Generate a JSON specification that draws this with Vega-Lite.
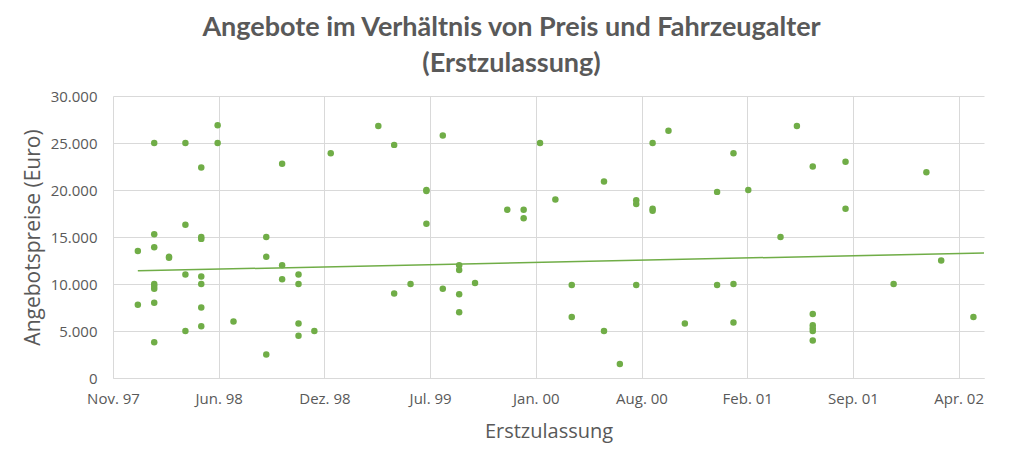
{
  "$schema": "https://vega.github.io/schema/vega-lite/v6.json",
  "autosize": {"type": "none"},
  "width": 871,
  "height": 282,
  "padding": {"left": 113, "top": 96, "right": 40, "bottom": 80},
  "background": "#FFFFFF",
  "title": {
    "text": ["Angebote im Verhältnis von Preis und Fahrzeugalter", "(Erstzulassung)"],
    "font": "Lato",
    "fontSize": 27,
    "fontWeight": "bold",
    "color": "#595959",
    "lineHeight": 36,
    "anchor": "middle",
    "dx": -37,
    "offset": 11
  },
  "datasets": {
    "angebote": [
      {"Erstzulassung": "1998-01-01", "Preis": 13500},
      {"Erstzulassung": "1998-01-01", "Preis": 7800},
      {"Erstzulassung": "1998-02-01", "Preis": 25000},
      {"Erstzulassung": "1998-02-01", "Preis": 15300},
      {"Erstzulassung": "1998-02-01", "Preis": 13900},
      {"Erstzulassung": "1998-02-01", "Preis": 10000},
      {"Erstzulassung": "1998-02-01", "Preis": 9800},
      {"Erstzulassung": "1998-02-01", "Preis": 9500},
      {"Erstzulassung": "1998-02-01", "Preis": 8000},
      {"Erstzulassung": "1998-02-01", "Preis": 3800},
      {"Erstzulassung": "1998-03-01", "Preis": 12900},
      {"Erstzulassung": "1998-03-01", "Preis": 12800},
      {"Erstzulassung": "1998-04-01", "Preis": 25000},
      {"Erstzulassung": "1998-04-01", "Preis": 16300},
      {"Erstzulassung": "1998-04-01", "Preis": 11000},
      {"Erstzulassung": "1998-04-01", "Preis": 5000},
      {"Erstzulassung": "1998-05-01", "Preis": 22400},
      {"Erstzulassung": "1998-05-01", "Preis": 15000},
      {"Erstzulassung": "1998-05-01", "Preis": 14800},
      {"Erstzulassung": "1998-05-01", "Preis": 10800},
      {"Erstzulassung": "1998-05-01", "Preis": 10000},
      {"Erstzulassung": "1998-05-01", "Preis": 7500},
      {"Erstzulassung": "1998-05-01", "Preis": 5500},
      {"Erstzulassung": "1998-06-01", "Preis": 26900},
      {"Erstzulassung": "1998-06-01", "Preis": 25000},
      {"Erstzulassung": "1998-07-01", "Preis": 6000},
      {"Erstzulassung": "1998-09-01", "Preis": 15000},
      {"Erstzulassung": "1998-09-01", "Preis": 12900},
      {"Erstzulassung": "1998-09-01", "Preis": 2500},
      {"Erstzulassung": "1998-10-01", "Preis": 22800},
      {"Erstzulassung": "1998-10-01", "Preis": 12000},
      {"Erstzulassung": "1998-10-01", "Preis": 10500},
      {"Erstzulassung": "1998-11-01", "Preis": 11000},
      {"Erstzulassung": "1998-11-01", "Preis": 10000},
      {"Erstzulassung": "1998-11-01", "Preis": 5800},
      {"Erstzulassung": "1998-11-01", "Preis": 4500},
      {"Erstzulassung": "1998-12-01", "Preis": 5000},
      {"Erstzulassung": "1999-01-01", "Preis": 23900},
      {"Erstzulassung": "1999-04-01", "Preis": 26800},
      {"Erstzulassung": "1999-05-01", "Preis": 24800},
      {"Erstzulassung": "1999-05-01", "Preis": 9000},
      {"Erstzulassung": "1999-06-01", "Preis": 10000},
      {"Erstzulassung": "1999-07-01", "Preis": 20000},
      {"Erstzulassung": "1999-07-01", "Preis": 19900},
      {"Erstzulassung": "1999-07-01", "Preis": 16400},
      {"Erstzulassung": "1999-08-01", "Preis": 25800},
      {"Erstzulassung": "1999-08-01", "Preis": 9500},
      {"Erstzulassung": "1999-09-01", "Preis": 12000},
      {"Erstzulassung": "1999-09-01", "Preis": 11500},
      {"Erstzulassung": "1999-09-01", "Preis": 8900},
      {"Erstzulassung": "1999-09-01", "Preis": 7000},
      {"Erstzulassung": "1999-10-01", "Preis": 10100},
      {"Erstzulassung": "1999-12-01", "Preis": 17900},
      {"Erstzulassung": "2000-01-01", "Preis": 17900},
      {"Erstzulassung": "2000-01-01", "Preis": 17000},
      {"Erstzulassung": "2000-02-01", "Preis": 25000},
      {"Erstzulassung": "2000-03-01", "Preis": 19000},
      {"Erstzulassung": "2000-04-01", "Preis": 9900},
      {"Erstzulassung": "2000-04-01", "Preis": 6500},
      {"Erstzulassung": "2000-06-01", "Preis": 20900},
      {"Erstzulassung": "2000-06-01", "Preis": 5000},
      {"Erstzulassung": "2000-07-01", "Preis": 1500},
      {"Erstzulassung": "2000-08-01", "Preis": 18900},
      {"Erstzulassung": "2000-08-01", "Preis": 18500},
      {"Erstzulassung": "2000-08-01", "Preis": 9900},
      {"Erstzulassung": "2000-09-01", "Preis": 25000},
      {"Erstzulassung": "2000-09-01", "Preis": 18000},
      {"Erstzulassung": "2000-09-01", "Preis": 17800},
      {"Erstzulassung": "2000-10-01", "Preis": 26300},
      {"Erstzulassung": "2000-11-01", "Preis": 5800},
      {"Erstzulassung": "2001-01-01", "Preis": 19800},
      {"Erstzulassung": "2001-01-01", "Preis": 9900},
      {"Erstzulassung": "2001-02-01", "Preis": 23900},
      {"Erstzulassung": "2001-02-01", "Preis": 10000},
      {"Erstzulassung": "2001-02-01", "Preis": 5900},
      {"Erstzulassung": "2001-03-01", "Preis": 20000},
      {"Erstzulassung": "2001-05-01", "Preis": 15000},
      {"Erstzulassung": "2001-06-01", "Preis": 26800},
      {"Erstzulassung": "2001-07-01", "Preis": 22500},
      {"Erstzulassung": "2001-07-01", "Preis": 6800},
      {"Erstzulassung": "2001-07-01", "Preis": 5600},
      {"Erstzulassung": "2001-07-01", "Preis": 5300},
      {"Erstzulassung": "2001-07-01", "Preis": 5000},
      {"Erstzulassung": "2001-07-01", "Preis": 4000},
      {"Erstzulassung": "2001-09-01", "Preis": 23000},
      {"Erstzulassung": "2001-09-01", "Preis": 18000},
      {"Erstzulassung": "2001-12-01", "Preis": 10000},
      {"Erstzulassung": "2002-02-01", "Preis": 21900},
      {"Erstzulassung": "2002-03-01", "Preis": 12500},
      {"Erstzulassung": "2002-05-01", "Preis": 6500}
    ],
    "trend": [
      {"Erstzulassung": "1998-01-01", "Preis": 11400},
      {"Erstzulassung": "2002-05-21", "Preis": 13300}
    ]
  },
  "encoding": {
    "x": {
      "field": "Erstzulassung",
      "type": "temporal",
      "scale": {
        "domain": [
          {"year": 1997, "month": 11, "date": 15, "utc": true},
          {"year": 2002, "month": 5, "date": 21, "utc": true}
        ],
        "nice": false
      },
      "axis": {
        "values": [
          {"year": 1997, "month": 11, "date": 15, "utc": true},
          {"year": 1998, "month": 6, "date": 3, "utc": true},
          {"year": 1998, "month": 12, "date": 20, "utc": true},
          {"year": 1999, "month": 7, "date": 8, "utc": true},
          {"year": 2000, "month": 1, "date": 24, "utc": true},
          {"year": 2000, "month": 8, "date": 11, "utc": true},
          {"year": 2001, "month": 2, "date": 27, "utc": true},
          {"year": 2001, "month": 9, "date": 15, "utc": true},
          {"year": 2002, "month": 4, "date": 3, "utc": true}
        ],
        "labelExpr": "['Jan.','Feb.','Mär.','Apr.','Mai','Jun.','Jul.','Aug.','Sep.','Okt.','Nov.','Dez.'][utcmonth(datum.value)] + ' ' + utcFormat(datum.value, '%y')",
        "title": "Erstzulassung",
        "grid": true,
        "gridColor": "#D9D9D9",
        "domain": true,
        "domainColor": "#D9D9D9",
        "ticks": false,
        "labelPadding": 13,
        "labelFlush": false,
        "labelOverlap": false,
        "titlePadding": 15
      }
    },
    "y": {
      "field": "Preis",
      "type": "quantitative",
      "scale": {"domain": [0, 30000], "nice": false, "zero": true},
      "axis": {
        "values": [0, 5000, 10000, 15000, 20000, 25000, 30000],
        "labelExpr": "replace(format(datum.value, ','), ',', '.')",
        "title": "Angebotspreise (Euro)",
        "titleFontSize": 21,
        "grid": true,
        "gridColor": "#D9D9D9",
        "domain": false,
        "ticks": false,
        "labelPadding": 16,
        "titlePadding": 7
      }
    }
  },
  "layer": [
    {
      "data": {"name": "trend"},
      "mark": {"type": "line", "color": "#70AD47", "strokeWidth": 1.5}
    },
    {
      "data": {"name": "angebote"},
      "mark": {"type": "point", "filled": true, "opacity": 1, "size": 42, "color": "#70AD47"}
    }
  ],
  "config": {
    "view": {"stroke": null},
    "axis": {
      "labelFont": "Open Sans",
      "labelFontSize": 15,
      "labelColor": "#595959",
      "titleFont": "Open Sans",
      "titleFontSize": 20,
      "titleFontWeight": "normal",
      "titleColor": "#595959"
    }
  }
}
